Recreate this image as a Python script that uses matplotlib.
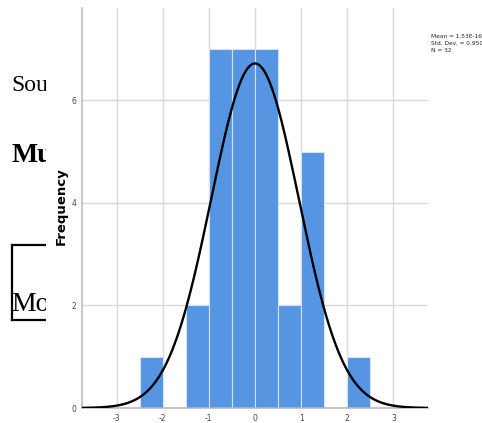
import numpy as np
import matplotlib
matplotlib.use("Agg")
from matplotlib import pyplot as plt
from matplotlib.patches import Rectangle
from matplotlib.lines import Line2D

# histogram data (bin edges and counts)
bin_edges = [-2.5, -2.0, -1.5, -1.0, -0.5, 0.0, 0.5, 1.0, 1.5, 2.0, 2.5]
counts = [1, 0, 2, 7, 7, 7, 2, 5, 0, 1]
x_ticks = [-3, -2, -1, 0, 1, 2, 3]
y_ticks = [0, 2, 4, 6]

# summary stats shown in the corner
mean = 1.53e-16
std_dev = 0.950
n = 32
stats_text = ["Mean = 1.53E-16", "Std. Dev. = 0.950", "N = 32"]

# bits of document text peeking out behind the chart
doc_texts = ["Sou", "Mu", "Mo"]

W, H = 482, 423
fig = plt.figure(figsize=(W / 100, H / 100), dpi=100)

# document behind
fig.text(11 / W, 1 - 91 / H, doc_texts[0], fontsize=17, family="Liberation Serif",
         va="baseline", ha="left", zorder=1)
fig.text(11 / W, 1 - 162 / H, doc_texts[1], fontsize=20, family="Liberation Serif",
         weight="bold", va="baseline", ha="left", zorder=1)
fig.text(11 / W, 1 - 311 / H, doc_texts[2], fontsize=20, family="Liberation Serif",
         va="baseline", ha="left", zorder=1)
box_kw = dict(color="black", lw=1.6, transform=fig.transFigure, zorder=1)
fig.add_artist(Line2D([12 / W, 12 / W], [1 - 245 / H, 1 - 320 / H], **box_kw))
fig.add_artist(Line2D([12 / W, 50 / W], [1 - 245 / H, 1 - 245 / H], **box_kw))
fig.add_artist(Line2D([12 / W, 50 / W], [1 - 320 / H, 1 - 320 / H], **box_kw))

# white chart image pasted over the document
fig.add_artist(Rectangle((46 / W, 0), 1 - 46 / W, 1, transform=fig.transFigure,
                         facecolor="white", edgecolor="none", zorder=2))

ax = fig.add_axes([82 / W, 1 - 408 / H, (428 - 82) / W, (408 - 8) / H])
ax.set_zorder(3)
ax.set_facecolor("none")

lefts = bin_edges[:-1]
widths = np.diff(bin_edges)
ax.bar(lefts, counts, width=widths, align="edge", color="#5595e2",
       edgecolor="#d6e2f3", linewidth=0.8, zorder=2)

# normal curve from the stats above
bw = bin_edges[1] - bin_edges[0]
xs = np.linspace(-3.75, 3.75, 400)
ys = n * bw / (std_dev * np.sqrt(2 * np.pi)) * np.exp(-0.5 * ((xs - mean) / std_dev) ** 2)
ax.plot(xs, ys, color="black", lw=1.7, zorder=3)

ax.set_xlim(-3.75, 3.75)
ax.set_ylim(0, 7.8)
ax.set_xticks(x_ticks)
ax.set_yticks(y_ticks)
ax.set_xticklabels([str(t) for t in x_ticks])
ax.set_yticklabels([str(t) for t in y_ticks])
ax.tick_params(length=0, labelsize=5.5, labelcolor="#444444")
ax.tick_params(axis="x", pad=4)
ax.tick_params(axis="y", pad=4)

ax.grid(True, color="#d9d9d9", lw=1.0)
ax.set_axisbelow(True)
for s in ["top", "right"]:
    ax.spines[s].set_visible(False)
ax.spines["left"].set_color("#b8b8b8")
ax.spines["bottom"].set_color("#b8b8b8")
ax.spines["left"].set_linewidth(1.1)
ax.spines["bottom"].set_linewidth(1.1)

ax.set_ylabel("Frequency", fontsize=9.5, weight="bold")
ax.yaxis.set_label_coords(-14 / (428 - 82), (408 - 206) / 400)

for i, s in enumerate(stats_text):
    fig.text(431 / W, 1 - (37 + 6.5 * i) / H, s, fontsize=4.2, va="center", ha="left",
             color="#222222", zorder=4)

fig.savefig("out.png", dpi=100)
